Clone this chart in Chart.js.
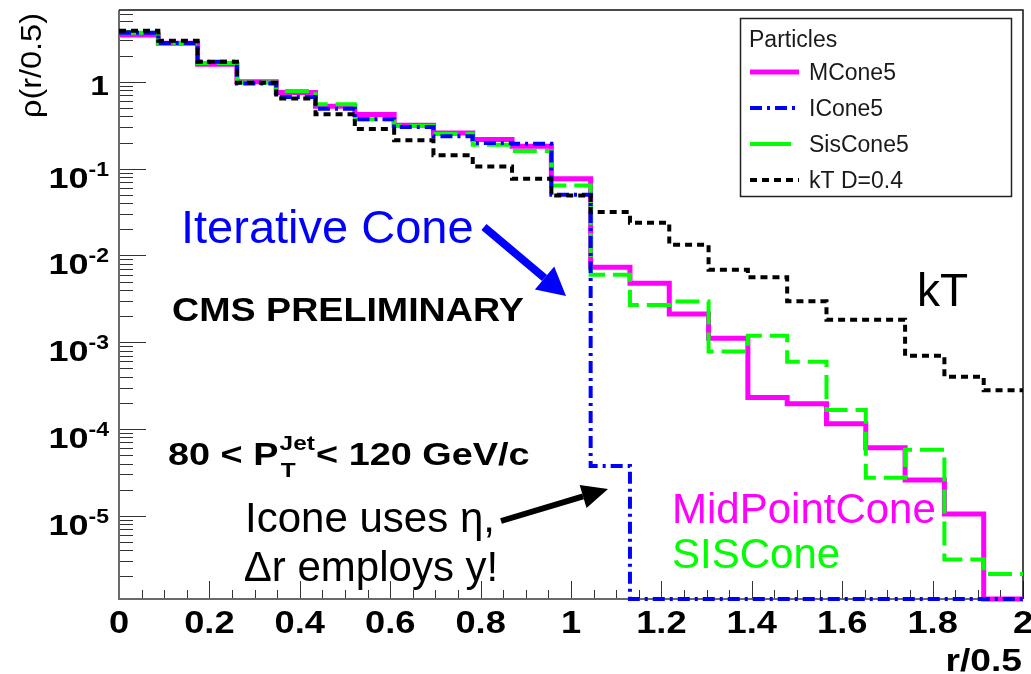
<!DOCTYPE html>
<html>
<head>
<meta charset="utf-8">
<script src="https://cdn.jsdelivr.net/npm/chart.js@4.4.1/dist/chart.umd.min.js"></script>
<style>
  html, body { margin: 0; padding: 0; background: #fff; }
  #wrap { width: 1031px; height: 674px; position: relative; }
</style>
</head>
<body>
<div id="wrap"><canvas id="rhoChart"></canvas></div>
<script>
// binning: 23 bins between r/0.5 = 0 and 2
const nBins = 23;
const rMin = 0;
const rMax = 2;

// rho(r/0.5) per bin (0 = empty bin)
const mcone5 = [3.46, 2.78, 1.60, 1.00, 0.755, 0.524, 0.420, 0.316, 0.258, 0.216, 0.181, 0.0767,
  0.0073, 0.00477, 0.00212, 0.00111, 0.000231, 0.000196, 0.000115, 6.1e-5, 2.58e-5, 1.05e-5, 0];
const icone5 = [3.68, 2.80, 1.70, 0.96, 0.67, 0.49, 0.371, 0.302, 0.236, 0.198, 0.194, 0.050,
  3.74e-5, 0, 0, 0, 0, 0, 0, 0, 0, 0, 0];
const siscone5 = [3.68, 2.80, 1.65, 0.98, 0.787, 0.553, 0.371, 0.310, 0.250, 0.189, 0.160, 0.064,
  0.0060, 0.00269, 0.00294, 0.000783, 0.00119, 0.000596, 0.000166, 2.75e-5, 5.75e-5, 3.13e-6, 2.14e-6];
const ktD04 = [3.88, 2.97, 1.70, 0.974, 0.643, 0.424, 0.287, 0.212, 0.143, 0.106, 0.0767, 0.049,
  0.0316, 0.0238, 0.0133, 0.00682, 0.0056, 0.00296, 0.00182, 0.00182, 0.000698, 0.0004, 0.00028];

const seriesNames = ['MCone5', 'ICone5', 'SisCone5', 'kT D=0.4'];
const xTickLabels = ['0', '0.2', '0.4', '0.6', '0.8', '1', '1.2', '1.4', '1.6', '1.8', '2'];
const yTickExponents = [0, -1, -2, -3, -4, -5];
const yMin = 1.1e-6;
const yMax = 6.73;

const FONT = "'Liberation Sans', Arial, Helvetica, sans-serif";

const binEdges = [];
for (let i = 0; i <= nBins; i++) binEdges.push(rMin + i * (rMax - rMin) / nBins);

// histogram -> step points, empty bins sit on the frame bottom like in ROOT
const toSteps = vals => {
  const pts = vals.map((v, i) => ({ x: binEdges[i], y: v > 0 ? v : yMin }));
  pts.push({ x: binEdges[nBins], y: pts[pts.length - 1].y });
  return pts;
};

const styles = [
  { color: '#ff00ff', width: 5, dash: [], order: 4, sample: 49 },
  { color: '#0000ff', width: 4, dash: [12, 5, 3, 5], order: 2, sample: 49 },
  { color: '#00ff00', width: 4, dash: [24, 8], order: 3, sample: 41 },
  { color: '#000000', width: 4, dash: [7, 5], order: 1, sample: 49 }
];

const datasets = [mcone5, icone5, siscone5, ktD04].map((vals, i) => ({
  label: seriesNames[i],
  data: toSteps(vals),
  borderColor: styles[i].color,
  borderWidth: styles[i].width,
  borderDash: styles[i].dash,
  borderJoinStyle: 'miter',
  borderCapStyle: 'butt',
  stepped: 'before',
  pointRadius: 0,
  fill: false,
  order: styles[i].order,
  clip: 6
}));

// ROOT's fonts come out wider than Liberation Sans, stretch horizontally
function wideText(ctx, text, x, y, sx) {
  ctx.save();
  ctx.translate(x, y);
  ctx.scale(sx, 1);
  ctx.fillText(text, 0, 0);
  ctx.restore();
}

function arrow(ctx, x0, y0, x1, y1, shaft, headLen, headW, color) {
  const ang = Math.atan2(y1 - y0, x1 - x0);
  const bx = x1 - headLen * Math.cos(ang), by = y1 - headLen * Math.sin(ang);
  ctx.strokeStyle = color; ctx.fillStyle = color;
  ctx.lineWidth = shaft; ctx.setLineDash([]);
  ctx.beginPath(); ctx.moveTo(x0, y0); ctx.lineTo(bx, by); ctx.stroke();
  const nx = -Math.sin(ang) * headW / 2, ny = Math.cos(ang) * headW / 2;
  ctx.beginPath();
  ctx.moveTo(x1, y1); ctx.lineTo(bx + nx, by + ny); ctx.lineTo(bx - nx, by - ny);
  ctx.closePath(); ctx.fill();
}

// ROOT style frame, inward ticks and labels
const rootFrame = {
  id: 'rootFrame',
  beforeDatasetsDraw(chart) {
    const { ctx, chartArea: a, scales: { x, y } } = chart;
    ctx.save();
    ctx.strokeStyle = '#333';
    ctx.lineWidth = 1;
    for (let e = -6; e <= 0; e++) {
      for (let m = 1; m <= 9; m++) {
        const v = m * Math.pow(10, e);
        if (v < yMin || v > yMax) continue;
        const py = Math.round(y.getPixelForValue(v)) + 0.5;
        ctx.beginPath();
        ctx.moveTo(a.left, py);
        ctx.lineTo(a.left + (m === 1 ? 27 : 14), py);
        ctx.stroke();
      }
    }
    for (let k = 0; k <= 40; k++) {
      const px = Math.round(x.getPixelForValue(k * 0.05)) + 0.5;
      ctx.beginPath();
      ctx.moveTo(px, a.bottom);
      ctx.lineTo(px, a.bottom - (k % 4 === 0 ? 18 : 9));
      ctx.stroke();
    }
    // axes + frame
    ctx.lineWidth = 2;
    ctx.strokeStyle = '#6a6a6a';
    ctx.beginPath();
    ctx.moveTo(a.left, a.top); ctx.lineTo(a.left, a.bottom); ctx.lineTo(a.right, a.bottom);
    ctx.stroke();
    ctx.strokeStyle = '#111';
    ctx.lineWidth = 1.5;
    ctx.beginPath();
    ctx.moveTo(a.left, a.top); ctx.lineTo(a.right, a.top); ctx.lineTo(a.right, a.bottom);
    ctx.stroke();

    // tick labels
    ctx.fillStyle = '#000';
    ctx.font = 'bold 31px ' + FONT;
    ctx.textAlign = 'center';
    ctx.textBaseline = 'alphabetic';
    xTickLabels.forEach(t => wideText(ctx, t, x.getPixelForValue(parseFloat(t)), 633, 1.17));

    yTickExponents.forEach(e => {
      const py = y.getPixelForValue(Math.pow(10, e));
      ctx.textAlign = 'right';
      ctx.textBaseline = 'alphabetic';
      if (e === 0) {
        ctx.font = 'bold 28px ' + FONT;
        wideText(ctx, '1', 109, py + 13, 1.2);
        return;
      }
      ctx.font = 'bold 20px ' + FONT;
      const sup = String(e);
      const w = ctx.measureText(sup).width * 1.15;
      wideText(ctx, sup, 109, py + 7, 1.15);
      ctx.font = 'bold 30px ' + FONT;
      wideText(ctx, '10', 109 - w, py + 19, 1.2);
    });

    // axis titles
    ctx.font = 'bold 31px ' + FONT;
    ctx.textAlign = 'right';
    ctx.textBaseline = 'alphabetic';
    wideText(ctx, 'r/0.5', 1022, 671, 1.2);

    ctx.save();
    ctx.translate(41, 13);
    ctx.rotate(-Math.PI / 2);
    ctx.scale(1.12, 1);
    ctx.font = '29px ' + FONT;
    ctx.textAlign = 'right';
    ctx.fillText('\u03c1(r/0.5)', 0, 0);
    ctx.restore();
    ctx.restore();
  },
  afterDraw(chart) {
    const { ctx } = chart;
    ctx.save();
    ctx.textBaseline = 'alphabetic';
    ctx.textAlign = 'left';

    // legend
    ctx.fillStyle = '#fff';
    ctx.fillRect(740, 18, 271, 178);
    ctx.strokeStyle = '#222';
    ctx.lineWidth = 1.5;
    ctx.strokeRect(740.5, 18.5, 271, 178);
    ctx.fillStyle = '#1a1a1a';
    ctx.font = '23px ' + FONT;
    ctx.fillText('Particles', 749, 47);
    const rowY = [72, 108, 144, 180];
    seriesNames.forEach((name, i) => {
      const s = styles[i];
      ctx.strokeStyle = s.color;
      ctx.lineWidth = s.width;
      ctx.setLineDash(i === 2 ? [] : s.dash);
      ctx.beginPath();
      ctx.moveTo(750, rowY[i]); ctx.lineTo(750 + s.sample, rowY[i]);
      ctx.stroke();
      ctx.setLineDash([]);
      ctx.fillStyle = '#1a1a1a';
      ctx.textBaseline = 'middle';
      ctx.fillText(name, 809, rowY[i] + 2);
    });
    ctx.textBaseline = 'alphabetic';

    // annotations
    ctx.fillStyle = '#0000ff';
    ctx.font = '47px ' + FONT;
    ctx.fillText('Iterative Cone', 181, 243);
    arrow(ctx, 484, 227, 566, 296, 8, 28, 30, '#0000ff');

    ctx.fillStyle = '#000';
    ctx.font = '46px ' + FONT;
    ctx.fillText('kT', 917, 306);

    ctx.font = 'bold 33px ' + FONT;
    wideText(ctx, 'CMS PRELIMINARY', 172, 321, 1.14);

    // 80 < P_T^Jet < 120 GeV/c
    const sx = 1.22;
    ctx.save();
    ctx.translate(168, 465);
    ctx.scale(sx, 1);
    ctx.font = 'bold 31px ' + FONT;
    ctx.fillText('80 < P', 0, 0);
    let tx = ctx.measureText('80 < P').width + 1;
    ctx.font = 'bold 20px ' + FONT;
    ctx.fillText('T', tx + 1, 12);
    ctx.fillText('Jet', tx, -15);
    tx += ctx.measureText('Jet').width + 1;
    ctx.font = 'bold 31px ' + FONT;
    ctx.fillText('< 120 GeV/c', tx, 0);
    ctx.restore();

    ctx.font = '42px ' + FONT;
    ctx.textAlign = 'center';
    ctx.fillText('Icone uses \u03b7,', 370, 532);
    ctx.fillText('\u0394r employs y!', 371, 581);
    ctx.textAlign = 'left';
    arrow(ctx, 501, 521, 608, 489, 6, 26, 24, '#000');

    ctx.fillStyle = '#ff00ff';
    ctx.fillText('MidPointCone', 672, 523);
    ctx.fillStyle = '#00ff00';
    ctx.fillText('SISCone', 672, 568);
    ctx.restore();
  }
};

new Chart(document.getElementById('rhoChart'), {
  type: 'line',
  data: { datasets: datasets },
  options: {
    responsive: true,
    maintainAspectRatio: false,
    animation: false,
    events: [],
    layout: { padding: { top: 10, right: 8, left: 0, bottom: 0 } },
    plugins: { legend: { display: false }, tooltip: { enabled: false } },
    scales: {
      x: {
        type: 'linear',
        min: rMin,
        max: rMax,
        ticks: { display: false },
        grid: { display: false },
        border: { display: false },
        afterFit: s => { s.height = 75; }
      },
      y: {
        type: 'logarithmic',
        min: yMin,
        max: yMax,
        ticks: { display: false },
        grid: { display: false },
        border: { display: false },
        afterFit: s => { s.width = 119; }
      }
    }
  },
  plugins: [rootFrame]
});
</script>
</body>
</html>
